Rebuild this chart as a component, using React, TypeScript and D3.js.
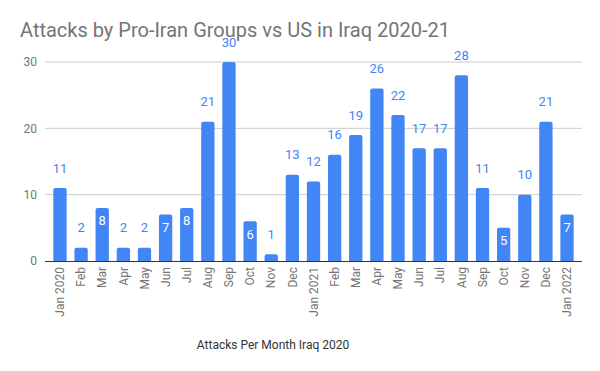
import * as d3 from 'd3';

// Monthly attacks, Jan 2020 – Jan 2022
const months = [
  'Jan 2020', 'Feb', 'Mar', 'Apr', 'May', 'Jun', 'Jul', 'Aug', 'Sep', 'Oct', 'Nov', 'Dec',
  'Jan 2021', 'Feb ', 'Mar ', 'Apr ', 'May ', 'Jun ', 'Jul ', 'Aug ', 'Sep ', 'Oct ', 'Nov ', 'Dec ',
  'Jan 2022',
];
const attacks = [11, 2, 8, 2, 2, 7, 8, 21, 30, 6, 1, 13, 12, 16, 19, 26, 22, 17, 17, 28, 11, 5, 10, 21, 7];
const yTicks = [0, 10, 20, 30];

const W = 600;
const H = 371;
const FONT = 'Roboto, "Noto Sans", sans-serif';
const BLUE = '#4285f4';

export default function App() {
  const left = 45;
  const right = 582;
  const top = 62;
  const bottom = 261;

  const x = d3
    .scaleBand<string>()
    .domain(months)
    .range([49.4, 577.6])
    .paddingInner(0.37)
    .paddingOuter(0.185);
  const y = d3.scaleLinear().domain([0, 30]).range([bottom, top]);

  return (
    <svg
      width={W}
      height={H}
      style={{ position: 'absolute', left: 0, top: 0, background: '#fff' }}
      fontFamily={FONT}
    >
      <text x={20} y={37} fontSize={20} fill="#757575">
        Attacks by Pro-Iran Groups vs US in Iraq 2020-21
      </text>

      {/* grid + y ticks */}
      {yTicks.map((t) => (
        <g key={t}>
          {t > 0 && <line x1={left} x2={right} y1={y(t)} y2={y(t)} stroke="#cccccc" strokeWidth={1} />}
          <text x={37} y={y(t)} dy="0.35em" textAnchor="end" fontSize={12} fill="#757575">
            {t}
          </text>
        </g>
      ))}

      {/* bars */}
      {months.map((m, i) => {
        const v = attacks[i];
        const bx = x(m)!;
        const bw = x.bandwidth();
        const inside = v >= 5 && v <= 9;
        const cx = bx + bw / 2;
        return (
          <g key={m}>
            <path
              d={`M${bx},${bottom}V${y(v) + 2}Q${bx},${y(v)} ${bx + 2},${y(v)}H${bx + bw - 2}Q${bx + bw},${y(v)} ${bx + bw},${y(v) + 2}V${bottom}Z`}
              fill={BLUE}
            />
            <text
              x={cx}
              y={inside ? y(v) + 13 : y(v) - 20}
              dy="0.35em"
              textAnchor="middle"
              fontSize={13}
              fill={inside ? '#ffffff' : BLUE}
            >
              {v}
            </text>
          </g>
        );
      })}

      {/* baseline */}
      <line x1={left} x2={right} y1={bottom + 0.5} y2={bottom + 0.5} stroke="#333333" strokeWidth={1} />

      {/* x labels */}
      {months.map((m) => {
        const cx = x(m)! + x.bandwidth() / 2;
        return (
          <text
            key={m}
            transform={`translate(${cx},267) rotate(-90)`}
            dy="0.35em"
            textAnchor="end"
            fontSize={12}
            fill="#757575"
          >
            {m.trim()}
          </text>
        );
      })}

      <text x={273} y={345} dy="0.35em" textAnchor="middle" fontSize={12} fill="#333333">
        Attacks Per Month Iraq 2020
      </text>
    </svg>
  );
}
